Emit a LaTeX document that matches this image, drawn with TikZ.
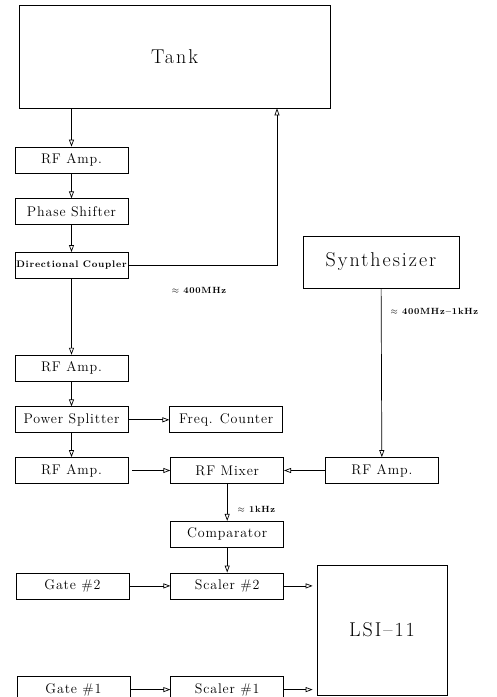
\documentclass[tikz,border=0pt]{standalone}
\usepackage{fontspec}
\usepackage{tikz}
\usetikzlibrary{positioning,arrows.meta}
\newfontfamily\plotfont[LetterSpace=6]{Latin Modern Roman}
\newfontfamily\plotwidefont[LetterSpace=10]{Latin Modern Roman}
\newfontfamily\plotsigfont[LetterSpace=8]{Latin Modern Roman}
\newcommand\blkfont{\plotfont\fontsize{14}{16}\selectfont}
\newcommand\largeblkfont{\plotwidefont\fontsize{20}{22}\selectfont}
\newcommand\dcfont{\plotsigfont\fontsize{9.5}{11}\selectfont\bfseries}
\newcommand\sigfont{\plotsigfont\fontsize{9}{10}\selectfont\bfseries}

\begin{document}
\begin{tikzpicture}[x=1pt,y=1pt,node distance=25pt,
                    blk/.style={rectangle,draw,line width=0.7pt,
                                minimum width=113pt,minimum height=26pt,
                                inner sep=0pt,font=\blkfont},
                    arr/.style={-{Triangle[open,length=7pt,width=5pt]},line width=0.7pt},
                    sig/.style={font=\sigfont,inner sep=0pt}]
  \useasboundingbox (0,0) rectangle (496,-697);
  % main chain
  \node[blk,minimum width=311pt,minimum height=103pt,font=\largeblkfont]
    (tank) at (174.5,-56.5) {Tank};
  \node[blk] (amp1) at (71.5,-160) {RF Amp.};
  \node[blk,below=of amp1] (shifter) {Phase Shifter};
  \node[blk,below=27pt of shifter,font=\dcfont] (coupler) {Directional Coupler};
  \node[blk,below=76pt of coupler] (amp2) {RF Amp.};
  \node[blk,below=of amp2] (splitter) {Power Splitter};
  \node[blk,below=24pt of splitter] (amp3) {RF Amp.};
  \node[blk,right=41pt of splitter] (counter) {Freq. Counter};
  \node[blk,right=42pt of amp3] (mixer) {RF Mixer};
  \node[blk,right=41pt of mixer] (ampR) {RF Amp.};
  \node[blk,minimum width=156pt,minimum height=52pt,font=\largeblkfont]
    (synth) at (381,-262) {Synthesizer};
  % counting
  \node[blk,below=37pt of mixer] (comparator) {Comparator};
  \node[blk,below=of comparator] (scaler2) {Scaler \#2};
  \node[blk,left=41pt of scaler2] (gate2) {Gate \#2};
  \node[blk,below=77pt of scaler2] (scaler1) {Scaler \#1};
  \node[blk,left=40pt of scaler1] (gate1) {Gate \#1};
  \node[blk,minimum width=130pt,minimum height=130pt,font=\largeblkfont]
    (lsi) at (382,-630) {LSI\textendash11};

  \coordinate (loop) at (277,0);
  \draw[arr] (amp1 |- tank.south) -- (amp1);
  \draw[arr] (amp1) -- (shifter);
  \draw[arr] (shifter) -- (coupler);
  \draw[arr] (coupler.east) -| (loop |- tank.south);
  \draw[arr] (coupler) -- node[sig,pos=0.15,right=100pt] {$\approx$ 400MHz} (amp2);
  \draw[arr] (amp2) -- (splitter);
  \draw[arr] (splitter) -- (amp3);
  \draw[arr] (splitter) -- (counter);
  \draw[arr,shorten <=4pt] (amp3) -- (mixer);
  \draw[arr] (synth) -- node[sig,pos=0.14,right=9pt] {$\approx$ 400MHz$-$1kHz} (ampR);
  \draw[arr] (ampR) -- (mixer);
  \draw[arr] (mixer) -- node[sig,pos=0.68,right=10pt] {$\approx$ 1kHz} (comparator);
  \draw[arr] (comparator) -- (scaler2);
  \draw[arr,shorten <=1pt] (gate2) -- (scaler2);
  \draw[arr,shorten <=1pt] (gate1) -- (scaler1);
  \draw[arr,shorten >=4pt] (scaler2.east) -- (scaler2.east -| lsi.west);
  \draw[arr,shorten >=4pt] (scaler1.east) -- (scaler1.east -| lsi.west);
\end{tikzpicture}
\end{document}
